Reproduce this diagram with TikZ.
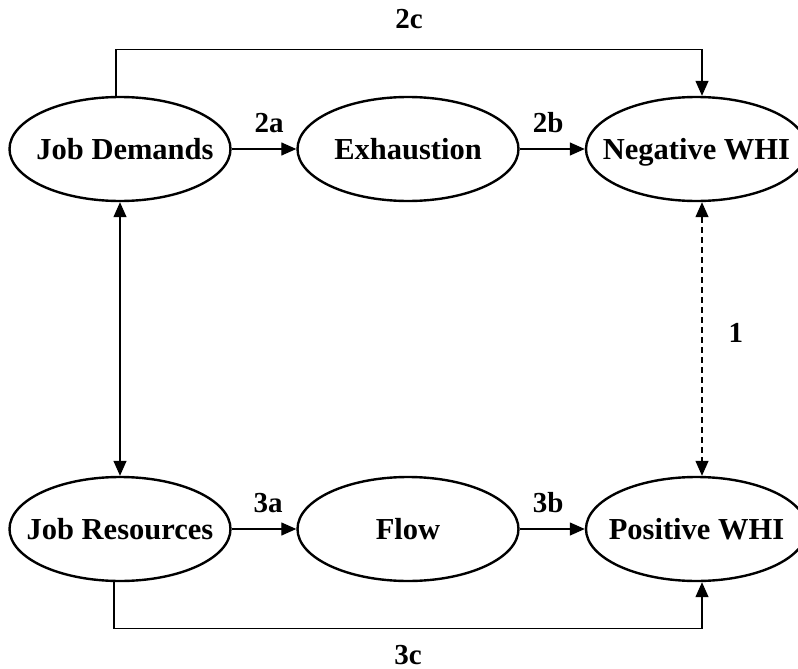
\documentclass[tikz,border=0pt]{standalone}
\usepackage{fontspec}
\setmainfont{Liberation Serif}
\usetikzlibrary{arrows.meta,calc,shapes.geometric}
% text set in a zero-size box so the ellipse keeps its fixed size
\newcommand{\ctext}[1]{\raisebox{-0.33em}[0pt][0pt]{\makebox[0pt]{#1}}}
\begin{document}
\begin{tikzpicture}[x=1pt,y=-1pt,
  construct/.style={ellipse,draw,line width=2.4pt,minimum width=221pt,minimum height=104pt,inner sep=0pt,
    font=\fontsize{30.5}{36}\selectfont\bfseries},
  pathlabel/.style={font=\fontsize{29}{34}\selectfont\bfseries,inner sep=0pt},
  link/.style={line width=1.3pt,-{Triangle[length=15pt,width=13pt]}},
  bilink/.style={line width=1.3pt,{Triangle[length=15pt,width=13pt]}-{Triangle[length=15pt,width=13pt]}}]
\useasboundingbox (0,0) rectangle (798,669);
\begin{scope}
\clip (0,0) rectangle (798,669);
\node[construct] (jd)   at (120,149) {\ctext{\hspace{10pt}Job Demands}};
\node[construct] (exh)  at (408,149) {\ctext{Exhaustion}};
\node[construct] (neg)  at (696.5,149) {\ctext{Negative WHI}};
\node[construct] (jr)   at (120,529) {\ctext{Job Resources}};
\node[construct] (flow) at (408,529) {\ctext{Flow}};
\node[construct] (pos)  at (696.5,529) {\ctext{Positive WHI}};
\end{scope}

% top row
\draw[link] (jd.east) -- node[pathlabel,above=16pt,xshift=5pt] (l2a) {2a} (exh.west);
\draw[link] (exh.east) -- node[pathlabel,above=16pt,xshift=-4pt] (l2b) {2b} (neg.west);
\coordinate (c2a) at ($(jd.north)+(-4,-46)$);
\coordinate (c2b) at ($(neg.north)+(5.5,-46)$);
\draw[link] (jd.north -| c2a) -- (c2a) -- node[pathlabel,above=20pt] (l2c) {2c} (c2b) -- (neg.north -| c2b);

% bottom row
\draw[link] (jr.east) -- node[pathlabel,above=16pt,xshift=4pt] (l3a) {3a} (flow.west);
\draw[link] (flow.east) -- node[pathlabel,above=16pt,xshift=-4pt] (l3b) {3b} (pos.west);
\coordinate (c3a) at ($(jr.south)+(-6,46)$);
\coordinate (c3b) at ($(pos.south)+(5.5,46)$);
\draw[link] (jr.south -| c3a) -- (c3a) -- node[pathlabel,below=16pt] (l3c) {3c} (c3b) -- (pos.south -| c3b);

% vertical links
\draw[bilink] (jd.south) -- (jr.north);
\draw[bilink,dashed,dash pattern=on 6pt off 4pt] ($(neg.south)+(5.5,0)$) -- node[pathlabel,right=26pt,yshift=6pt] (l1) {1} ($(pos.north)+(5.5,0)$);
\end{tikzpicture}
\end{document}
